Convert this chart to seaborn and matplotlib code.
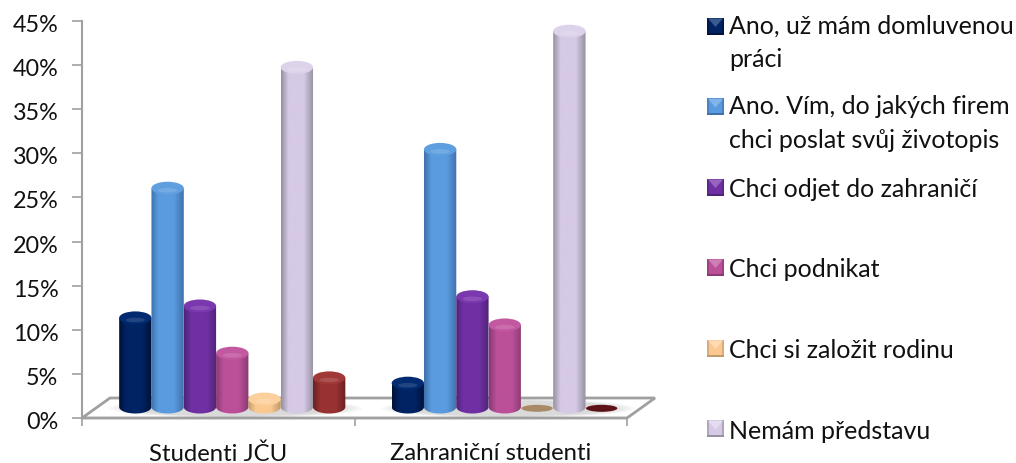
import numpy as np
import pandas as pd
import matplotlib
matplotlib.use("Agg")
import matplotlib.pyplot as plt
import seaborn as sns
from matplotlib.colors import LinearSegmentedColormap, to_rgb
from matplotlib.patches import Ellipse, Polygon, Rectangle
from matplotlib.path import Path
from matplotlib.transforms import ScaledTranslation

categories = ["Studenti JČU", "Zahraniční studenti"]
series = ["Ano, už mám domluvenou\npráci",
          "Ano. Vím, do jakých firem\nchci poslat svůj životopis",
          "Chci odjet do zahraničí",
          "Chci podnikat",
          "Chci si založit rodinu",
          "Nemám představu",
          "Jiné"]
studenti_jcu = [10.1, 24.8, 11.45, 6.1, 0.9, 38.5, 3.3]
zahranicni = [2.7, 29.2, 12.5, 9.3, 0.0, 42.6, 0.0]
y_ticks = [0, 5, 10, 15, 20, 25, 30, 35, 40, 45]

# (edge dark, mid, cap, flat-disc colour)
palette = [("#001238", "#002364", "#012a70", "#001c50"),
           ("#3f72aa", "#5a9be0", "#5f9fe0", "#3a6a9f"),
           ("#4f2478", "#7030a4", "#7a38ae", "#4a2070"),
           ("#8a3a72", "#bb5099", "#c258a0", "#84386c"),
           ("#c09a68", "#fac890", "#fcd09c", "#a98a66"),
           ("#9690a0", "#d5c9e6", "#dcd2ea", "#8f8799"),
           ("#6a2020", "#983232", "#a03838", "#5c1216")]

W, H = 1016, 464
FONT = "Lato"
FS_Y, FS_X, FS_L = 16.8, 17.2, 18.0
sns.set_theme(style="white")
plt.rcParams["font.family"] = [FONT, "DejaVu Sans"]
GREY = "#a0a0a0"

fig = plt.figure(figsize=(W / 100, H / 100), dpi=100)


def box(l, r, top, bottom):
    return [l / W, 1 - bottom / H, (r - l) / W, (bottom - top) / H]


def lighten(c, f):
    return tuple(np.array(to_rgb(c)) * (1 - f) + f)


# ---- floor and axes -------------------------------------------------
ax = fig.add_axes(box(82, 627, 22, 419))
ax.set_xlim(-0.5, 1.5)
ax.set_ylim(0, 45)
ax.patch.set_alpha(0)
ax.set_yticks(y_ticks)
ax.set_yticklabels([f"{t}%" for t in y_ticks], fontsize=FS_Y, color="#111111")
ax.set_xticks([-0.5, 0.5, 1.5])
ax.set_xticklabels([])
ax.set_xticks([0, 1], minor=True)
ax.set_xticklabels(categories, minor=True, fontsize=FS_X, color="#111111")
ax.tick_params(axis="y", which="major", left=True, length=7, width=1.2, color=GREY, pad=10)
ax.tick_params(axis="x", which="major", bottom=True, length=6, width=1.2, color=GREY)
ax.tick_params(axis="x", which="minor", bottom=False, length=0, pad=17.5)
sns.despine(ax=ax)
for s in ("left", "bottom"):
    ax.spines[s].set_color(GREY)
    ax.spines[s].set_linewidth(1.5)
shift = ScaledTranslation(0, -1.5 / 100, fig.dpi_scale_trans)
for lab in ax.get_yticklabels():
    lab.set_transform(lab.get_transform() + shift)

# pixel overlay for floor and legend
ov = fig.add_axes([0, 0, 1, 1], zorder=0)
ov.set_xlim(0, W)
ov.set_ylim(H, 0)
ov.axis("off")
ov.patch.set_alpha(0)
ov.add_patch(Polygon([(82, 419), (110, 399), (655, 399), (627, 419)], closed=True,
                     fill=False, edgecolor=GREY, linewidth=2.0))

# ---- bars -----------------------------------------------------------
df = pd.DataFrame({
    "cat": np.repeat(categories, len(series)),
    "ser": series * 2,
    "val": studenti_jcu + zahranicni,
})
px_y = 45 / 397
cap_h = 13 * px_y
below = 20
bx = fig.add_axes(box(96, 641, 11, 408 + below), zorder=2)
sns.barplot(data=df, x="cat", y="val", hue="ser", order=categories, hue_order=series,
            width=0.83, gap=0, dodge=True, legend=False, ax=bx,
            palette=[p[1] for p in palette], saturation=1, linewidth=0, errorbar=None)
bx.axis("off")
bx.patch.set_alpha(0)
YLIM = (-below * px_y, 45)

# soft shadow on the floor
for c in (0, 1):
    for k in np.linspace(1.12, 0.92, 6):
        bx.add_patch(Ellipse((c + 0.012, -0.15), 0.83 * k, 1.9 * k, facecolor="#808080",
                             edgecolor="none", alpha=0.05, zorder=1))

for i, (cont, cols) in enumerate(zip(bx.containers, palette)):
    edge, mid, cap, flat = cols
    cmap = LinearSegmentedColormap.from_list(
        f"c{i}", [(0, edge), (0.22, mid), (0.7, mid), (1, edge)])
    z = 3 + i
    for bar in cont:
        x0, w, v = bar.get_x(), bar.get_width(), bar.get_height()
        bar.set_visible(False)
        xc = x0 + w / 2
        if v <= 0:
            bx.add_patch(Ellipse((xc, -0.15), w * 0.97, 7 * px_y, facecolor=flat,
                                 edgecolor="none", zorder=z))
            continue
        t = np.linspace(np.pi, 2 * np.pi, 40)
        arc = np.column_stack([xc + w / 2 * np.cos(t), cap_h / 2 * np.sin(t)])
        poly = np.vstack([[[x0, v]], arc, [[x0 + w, v]], [[x0, v]]])
        im = bx.imshow(np.linspace(0, 1, 64)[None, :], cmap=cmap, vmin=0, vmax=1,
                       extent=(x0, x0 + w, -cap_h, v), aspect="auto", zorder=z,
                       interpolation="bilinear")
        im.set_clip_path(Path(poly), transform=bx.transData)
        bx.add_patch(Ellipse((xc, v), w, cap_h, facecolor=cap, edgecolor="none", zorder=z + 0.1))
        bx.add_patch(Ellipse((xc, v - cap_h * 0.16), w * 0.6, cap_h * 0.35, facecolor="white",
                             edgecolor="none", alpha=0.13, zorder=z + 0.2))
bx.set_xlim(-0.5, 1.5)
bx.set_ylim(*YLIM)

# ---- legend ---------------------------------------------------------
lg = fig.add_axes([0, 0, 1, 1], zorder=3)
lg.set_xlim(0, W)
lg.set_ylim(H, 0)
lg.axis("off")
lg.patch.set_alpha(0)
marker_y = [27, 107.5, 188, 268, 349, 429.5]
for lab, my, cols in zip(series[:6], marker_y, palette):
    edge, mid, cap, flat = cols
    l, r, t, b = 707, 724, my - 8.5, my + 8.5
    lg.add_patch(Rectangle((l, t), r - l, b - t, facecolor=mid, edgecolor="none"))
    lg.add_patch(Rectangle((l, b - 2), r - l, 2, facecolor=edge, edgecolor="none"))
    lg.add_patch(Rectangle((l, t), 2, b - t, facecolor=edge, edgecolor="none", alpha=0.6))
    lg.add_patch(Rectangle((r - 2, t), 2, b - t, facecolor=edge, edgecolor="none", alpha=0.6))
    lg.add_patch(Polygon([(l + 1, t + 1), (r - 1, t + 1), ((l + r) / 2, my + 1)],
                         facecolor=lighten(cap, 0.22), edgecolor="none"))
    two = "\n" in lab
    lg.text(729, my + 16 if two else my + 2, lab, fontsize=FS_L, color="#111111",
            va="center", ha="left", linespacing=1.54)

fig.savefig("out.png", dpi=100)
